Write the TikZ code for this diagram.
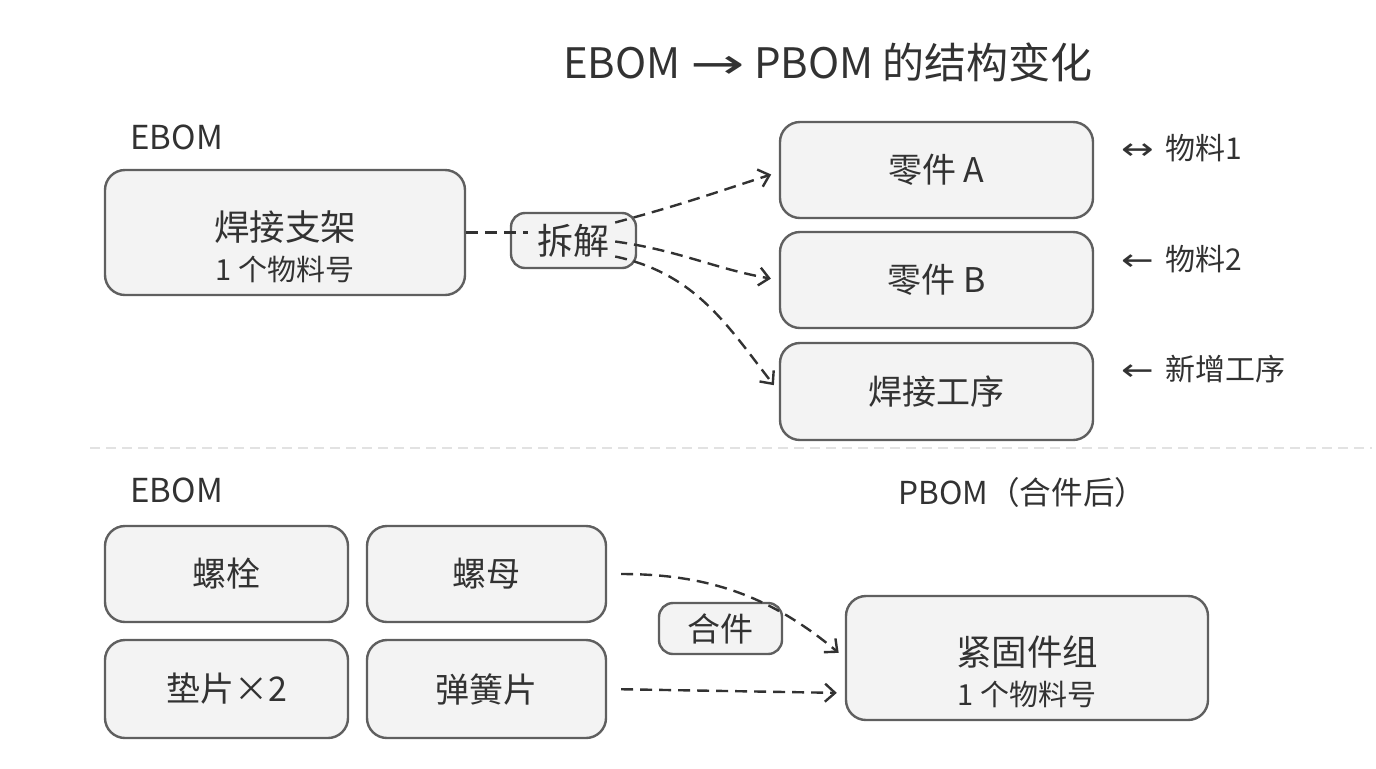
\documentclass[tikz,border=0pt]{standalone}
\usepackage{fontspec}
\setmainfont{Noto Sans CJK SC}
\newfontfamily\arrowFont{DejaVu Sans}
\usetikzlibrary{arrows.meta}
\definecolor{boxFill}{RGB}{243,243,243}
\definecolor{boxLine}{RGB}{95,95,95}
\definecolor{textColor}{RGB}{50,50,50}
\definecolor{sepColor}{RGB}{226,226,226}
\tikzstyle{diagram} = [x = .5pt, y = -.5pt]
\tikzstyle{partBox} = [draw=boxLine, fill=boxFill, rounded corners = 10pt, line width = 1.2pt, text=textColor, align=center, inner sep=0pt, font=\fontsize{17}{20}\selectfont]
\tikzstyle{tagBox} = [partBox, rounded corners = 7pt]
\tikzstyle{plainText} = [text=textColor, inner sep=0pt]
\tikzstyle{flowArrow} = [draw=textColor, line width=1.2pt, dash pattern=on 6pt off 3.5pt, -{Straight Barb[length=5pt,width=9pt,line width=1.2pt]}]
\tikzstyle{flowLine} = [draw=textColor, line width=1.2pt, dash pattern=on 6pt off 3.5pt]
\tikzstyle{sepLine} = [draw=sepColor, line width=1.2pt, dash pattern=on 5pt off 3pt]
\newcommand{\bigLine}[1]{{\fontsize{17.75}{20}\selectfont #1}}
\newcommand{\smallLine}[1]{{\fontsize{14.5}{20}\selectfont #1}}
\newcommand{\wideArrow}[2]{{\arrowFont\scalebox{#1}[1]{#2}}}
\newcommand{\partNode}[5]{\node [partBox, minimum width=#4, minimum height=#5] (#1) at (#2) {#3};}

\begin{document}
\begin{tikzpicture}[diagram]
  \useasboundingbox (0,0) rectangle (1376,768);

  % title
  \node [plainText, font=\fontsize{21}{24}\selectfont] (title) at (828,62) {EBOM \wideArrow{1.55}{→} PBOM 的结构变化};

  % upper part: splitting
  \node [plainText, anchor=west, font=\fontsize{16.5}{18}\selectfont] (ebomTop) at (130,137) {EBOM};
  \partNode{weldFrame}{285,232.5}{\mbox{}\\[9pt]\bigLine{焊接支架}\\\smallLine{1 个物料号}}{180pt}{62.5pt}
  \node [tagBox, minimum width=62.5pt, minimum height=27.5pt, font=\fontsize{18}{20}\selectfont] (split) at (573.5,240.5) {拆解};
  \partNode{partA}{936.5,170}{零件 A}{156.5pt}{48pt}
  \partNode{partB}{936.5,280}{零件 B}{156.5pt}{48pt}
  \partNode{weldStep}{936.5,391.5}{焊接工序}{156.5pt}{48.5pt}

  \node [plainText, anchor=west, font=\fontsize{15}{18}\selectfont] (matOne) at (1121,148) {\wideArrow{1.3}{↔}\, 物料1};
  \node [plainText, anchor=west, font=\fontsize{15}{18}\selectfont] (matTwo) at (1121,259) {\wideArrow{1.3}{←}\, 物料2};
  \node [plainText, anchor=west, font=\fontsize{15}{18}\selectfont] (newStep) at (1121,369) {\wideArrow{1.3}{←}\, 新增工序};

  \coordinate (splitOut1) at ([xshift=-11pt, yshift=9pt]split.east);
  \coordinate (splitOut2) at ([xshift=-11pt, yshift=-0.5pt]split.east);
  \coordinate (splitOut3) at ([xshift=-11pt, yshift=-8pt]split.east);
  \draw [flowLine] (weldFrame.east) -- ([xshift=9pt]weldFrame.east -| split.west);
  \draw [flowArrow, shorten >=4pt] (splitOut1) to [out=15, in=198] ([yshift=-1pt]partA.west);
  \draw [flowArrow, shorten >=4pt] (splitOut2) to [out=-8, in=170] (partB.west);
  \draw [flowArrow, shorten >=4pt] (splitOut3) to [out=-12, in=128] (weldStep.west);

  % separator
  \draw [sepLine] (90,448) -- (1372,448);

  % lower part: merging
  \node [plainText, anchor=west, font=\fontsize{16.5}{18}\selectfont] (ebomLow) at (130,490) {EBOM};
  \node [plainText, anchor=west, font=\fontsize{15.8}{18}\selectfont] (pbomLow) at (898,492) {PBOM（合件后）};
  \partNode{bolt}{226.5,574}{螺栓}{121.5pt}{48pt}
  \partNode{nut}{486.5,574}{螺母}{119.5pt}{48pt}
  \partNode{washer}{226.5,689}{垫片×2}{121.5pt}{49pt}
  \partNode{spring}{486.5,689}{弹簧片}{119.5pt}{49pt}
  \node [tagBox, minimum width=61.5pt, minimum height=25.5pt, font=\fontsize{16.5}{18}\selectfont] (merge) at (720.5,628.5) {合件};
  \partNode{fastener}{1027,658}{\mbox{}\\[9pt]\bigLine{紧固件组}\\\smallLine{1 个物料号}}{181pt}{62pt}

  \draw [flowArrow, shorten <=7pt, shorten >=4pt] (nut.east) to [out=0, in=140] (fastener.west);
  \draw [flowArrow, shorten <=7pt, shorten >=4pt] (spring.east) -- ([yshift=-17.5pt]fastener.west);
\end{tikzpicture}
\end{document}
